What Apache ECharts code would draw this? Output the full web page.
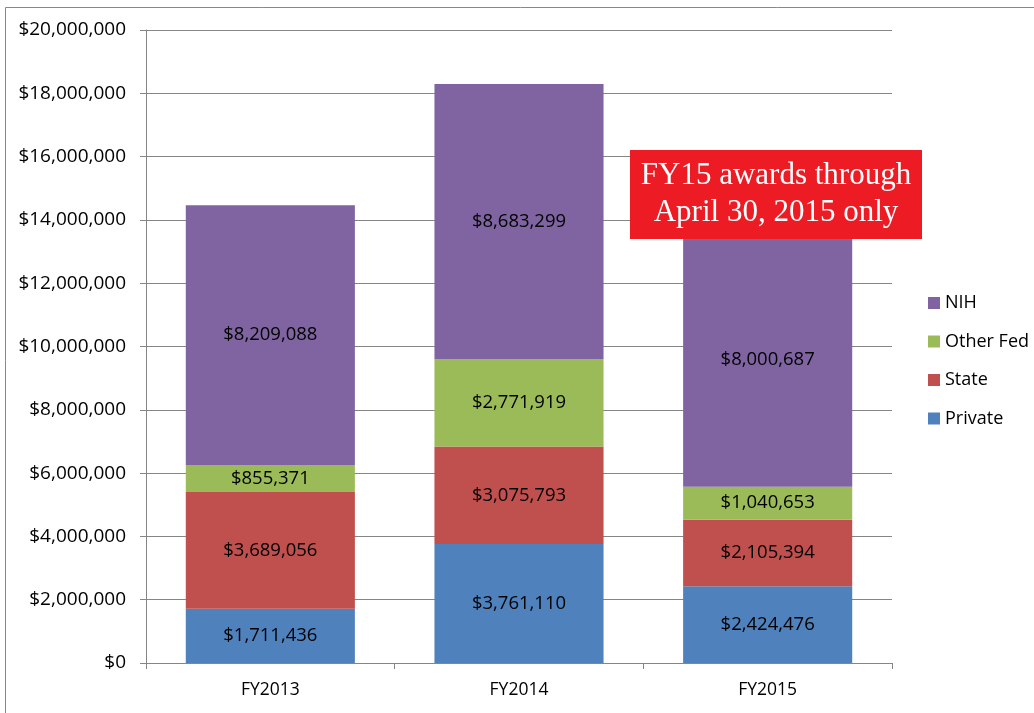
<!DOCTYPE html>
<html>
<head>
<meta charset="utf-8">
<script src="https://cdn.jsdelivr.net/npm/echarts@6/dist/echarts.min.js"></script>
<style>
  html, body { margin: 0; padding: 0; background: #fff; }
  #chart { width: 1034px; height: 713px; }
</style>
</head>
<body>
<div id="chart"></div>
<script>
const years = ['FY2013', 'FY2014', 'FY2015'];
const privateVals = [1711436, 3761110, 2424476];
const stateVals = [3689056, 3075793, 2105394];
const otherFedVals = [855371, 2771919, 1040653];
const nihVals = [8209088, 8683299, 8000687];
const legendOrder = ['NIH', 'Other Fed', 'State', 'Private'];

const money = v => '$' + Math.round(v).toString().replace(/\B(?=(\d{3})+(?!\d))/g, ',');
const font = '"Open Sans", "Liberation Sans", sans-serif';

function bar(name, data, color) {
  return {
    name: name,
    type: 'bar',
    stack: 'total',
    barWidth: '68%',
    itemStyle: { color: color },
    label: {
      show: true,
      position: 'inside',
      color: '#000',
      fontSize: 18.5,
      fontFamily: font,
      formatter: p => money(p.value)
    },
    data: data
  };
}

const chart = echarts.init(document.getElementById('chart'));
chart.setOption({
  animation: false,
  backgroundColor: '#fff',
  grid: { left: 146, right: 142, top: 30, bottom: 50 },
  legend: {
    data: legendOrder,
    orient: 'vertical',
    left: 923,
    top: 289,
    itemWidth: 12,
    itemHeight: 12,
    itemGap: 20.5,
    icon: 'rect',
    textStyle: { fontSize: 18, lineHeight: 18, color: '#000', fontFamily: font }
  },
  xAxis: {
    type: 'category',
    data: years,
    axisLine: { lineStyle: { color: '#868686' } },
    axisTick: { show: true, length: 6, lineStyle: { color: '#868686' } },
    axisLabel: { color: '#000', fontSize: 17.5, fontFamily: font, margin: 18 }
  },
  yAxis: {
    type: 'value',
    min: 0,
    max: 20000000,
    interval: 2000000,
    axisLine: { show: true, lineStyle: { color: '#868686' } },
    axisTick: { show: true, length: 6, lineStyle: { color: '#868686' } },
    axisLabel: { color: '#000', fontSize: 19, fontFamily: font, margin: 20, formatter: money },
    splitLine: { lineStyle: { color: '#868686', width: 1 } }
  },
  series: [
    bar('Private', privateVals, '#4F81BD'),
    bar('State', stateVals, '#C0504D'),
    bar('Other Fed', otherFedVals, '#9BBB59'),
    bar('NIH', nihVals, '#8064A2')
  ],
  graphic: [
    {
      type: 'rect',
      shape: { x: 5.5, y: 7.5, width: 1100, height: 800 },
      style: { fill: 'none', stroke: '#888', lineWidth: 1 },
      silent: true
    },
    {
      type: 'rect',
      z: 100,
      shape: { x: 630, y: 150, width: 292, height: 89 },
      style: { fill: '#ED1C24' }
    },
    {
      type: 'text',
      z: 101,
      x: 776,
      y: 194.5,
      style: {
        text: 'FY15 awards through\nApril 30, 2015 only',
        fill: '#fff',
        font: '31px "Liberation Serif", "DejaVu Serif", serif',
        lineHeight: 37,
        align: 'center',
        verticalAlign: 'middle'
      }
    }
  ]
});
</script>
</body>
</html>
